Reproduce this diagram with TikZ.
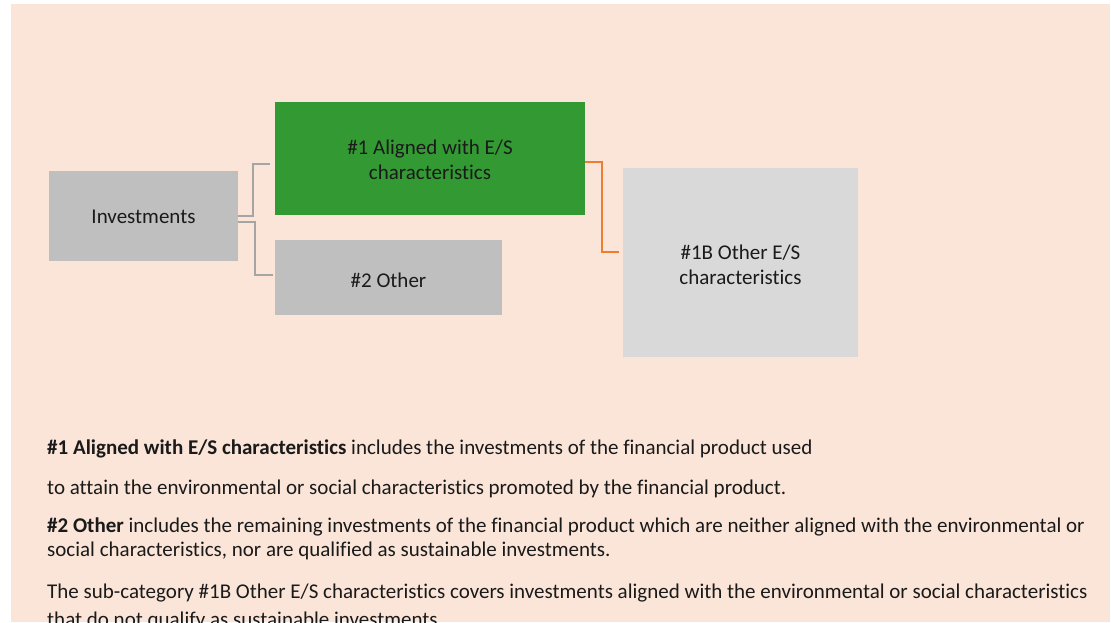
\documentclass[tikz,border=0pt]{standalone}
\usepackage{fontspec}
\setmainfont{Carlito}[Ligatures=NoCommon]
\definecolor{peach}{HTML}{FAE5D8}
\definecolor{boxgray}{HTML}{BFBFBF}
\definecolor{lightgray2}{HTML}{D9D9D9}
\definecolor{okgreen}{HTML}{339933}
\definecolor{linegray}{HTML}{A5A5A5}
\definecolor{lineorange}{HTML}{ED7D31}
\definecolor{txt}{HTML}{1A1A1A}
\begin{document}
\begin{tikzpicture}[x=1pt,y=-1pt,
  box/.style={draw=none,inner sep=0pt,align=center,font=\fontsize{21}{25}\selectfont,text=txt},
  para/.style={anchor=base west,inner sep=0pt,font=\fontsize{21}{24}\selectfont,text=txt},
  conn/.style={draw=linegray,line width=1.6pt},
  oconn/.style={draw=lineorange,line width=1.6pt}]
\useasboundingbox (0,0) rectangle (1111,622);
\clip (0,0) rectangle (1111,622);
\fill[peach] (11,4) rectangle (1110,622);
% boxes
\fill[boxgray] (49,171) rectangle (238,261);
\node[box] (inv) at (143.5,217) {Investments};
\fill[okgreen] (275,102) rectangle (585,215);
\node[box] (al) at (430,160) {\#1 Aligned with E/S\\characteristics};
\fill[boxgray] (275,240) rectangle (502,315);
\node[box] (oth) at (388.5,280) {\#2 Other};
\fill[lightgray2] (623,168) rectangle (858,357);
\node[box] (ob) at (740.5,264.5) {\#1B Other E/S\\characteristics};
% anchor coordinates
\coordinate (invr1) at (238,216);
\coordinate (invr2) at (238,222);
\coordinate (alL) at (270,164);
\coordinate (othL) at (273,275);
\coordinate (alR) at (585,162);
\coordinate (obL) at (619,252);
\draw[conn] (invr1) -| (253,164) -- (alL);
\draw[conn] (invr2) -| (255,275) -- (othL);
\draw[oconn] (alR) -| (602,252) -- (obL);
% paragraphs
\node[para] (p1) at (47,454) {\textbf{\#1 Aligned with E/S characteristics} includes the investments of the financial product used};
\node[para] (p2) at (47,494) {to attain the environmental or social characteristics promoted by the financial product.};
\node[para] (p3) at (47,532) {\textbf{\#2 Other} includes the remaining investments of the financial product which are neither aligned with the environmental or};
\node[para] (p4) at (47,556) {social characteristics, nor are qualified as sustainable investments.};
\node[para] (p5) at (47,598) {The sub-category \#1B Other E/S characteristics covers investments aligned with the environmental or social characteristics};
\node[para] (p6) at (47,626) {that do not qualify as sustainable investments.};
\end{tikzpicture}
\end{document}
